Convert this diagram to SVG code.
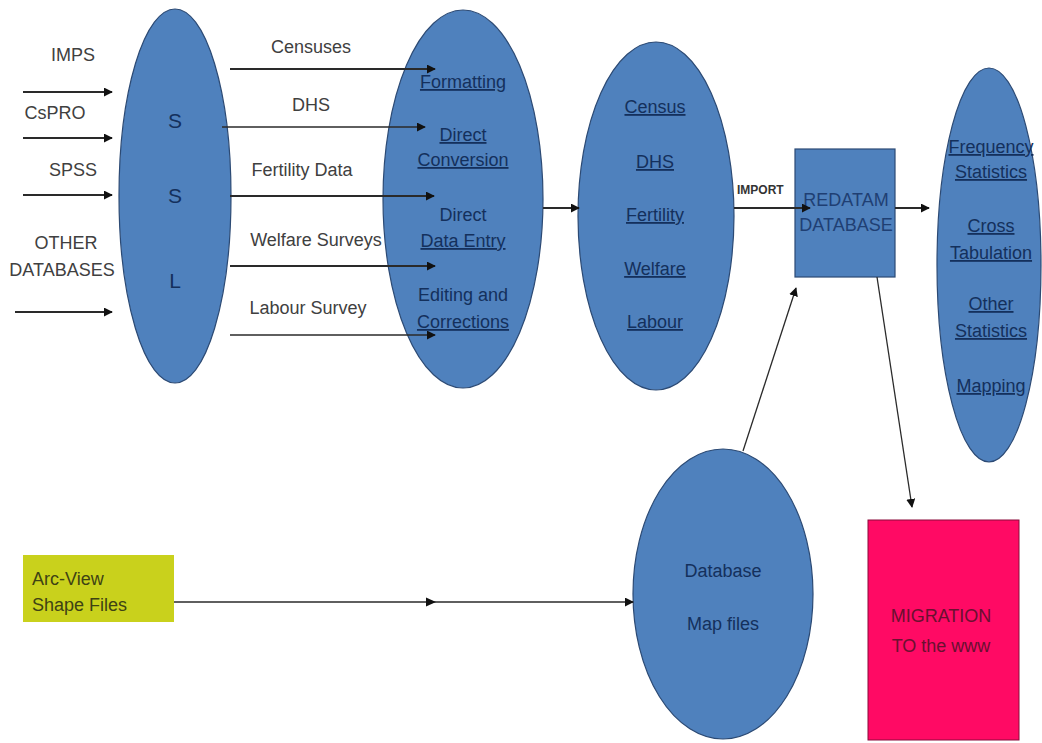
<svg xmlns="http://www.w3.org/2000/svg" width="1042" height="743" viewBox="0 0 1042 743">
<style>
.bg{fill:#ffffff}
.ell{fill:#4f81bd;stroke:#2c4a74;stroke-width:1.2}
.lbl{font-family:"Liberation Sans",Arial,sans-serif;font-size:18px;fill:#404040;text-anchor:middle}
.in{font-family:"Liberation Sans",Arial,sans-serif;font-size:18px;fill:#14305c;text-anchor:middle}
.u{text-decoration:underline}
.big{font-family:"Liberation Sans",Arial,sans-serif;font-size:21px;fill:#14305c;text-anchor:middle}
.ln{stroke:#2a2a2a;stroke-width:2;fill:none}
.thin{stroke:#2a2a2a;stroke-width:1.3;fill:none}
</style>
<defs>
<marker id="ah" viewBox="0 0 10 10" refX="9" refY="5" markerWidth="9" markerHeight="9" markerUnits="userSpaceOnUse" orient="auto">
<path d="M0,0 L10,5 L0,10 z" fill="#111"/>
</marker>
<marker id="ahs" viewBox="0 0 10 10" refX="9" refY="5" markerWidth="9" markerHeight="9" markerUnits="userSpaceOnUse" orient="auto">
<path d="M0,0 L10,5 L0,10 z" fill="#111"/>
</marker>
</defs>
<rect class="bg" x="0" y="0" width="1042" height="743"/>

<g id="source-labels">
<text class="lbl" x="73" y="61">IMPS</text>
<text class="lbl" x="55" y="119">CsPRO</text>
<text class="lbl" x="73" y="176">SPSS</text>
<text class="lbl" x="66" y="249">OTHER</text>
<text class="lbl" x="62" y="276">DATABASES</text>
</g>

<g id="ssl">
<ellipse class="ell" cx="175" cy="196" rx="56" ry="187"/>
<text class="big" x="175" y="128">S</text>
<text class="big" x="175" y="203">S</text>
<text class="big" x="175" y="288">L</text>
</g>

<g id="data-labels">
<text class="lbl" x="311" y="53">Censuses</text>
<text class="lbl" x="311" y="111">DHS</text>
<text class="lbl" x="302" y="176">Fertility Data</text>
<text class="lbl" x="316" y="246">Welfare Surveys</text>
<text class="lbl" x="308" y="314">Labour Survey</text>
</g>

<g id="processing">
<ellipse class="ell" cx="463" cy="199" rx="80" ry="189"/>
<text class="in u" x="463" y="88">Formatting</text>
<text class="in u" x="463" y="141">Direct</text>
<text class="in u" x="463" y="166">Conversion</text>
<text class="in" x="463" y="221">Direct</text>
<text class="in u" x="463" y="247">Data Entry</text>
<text class="in" x="463" y="301">Editing and</text>
<text class="in u" x="463" y="328">Corrections</text>
</g>

<g id="datasets">
<ellipse class="ell" cx="656" cy="216" rx="78" ry="174"/>
<text class="in u" x="655" y="113">Census</text>
<text class="in u" x="655" y="168">DHS</text>
<text class="in u" x="655" y="221">Fertility</text>
<text class="in u" x="655" y="275">Welfare</text>
<text class="in u" x="655" y="328">Labour</text>
</g>

<g id="redatam">
<rect x="795" y="149" width="100" height="128" fill="#4f81bd" stroke="#2c4a74" stroke-width="1.2"/>
<text class="big" x="846" y="206" style="font-size:18px;fill:#1f3f73">REDATAM</text>
<text class="big" x="846" y="231" style="font-size:18px;fill:#1f3f73">DATABASE</text>
</g>

<g id="outputs">
<ellipse class="ell" cx="989" cy="265" rx="52" ry="197"/>
<text class="in u" x="991" y="153">Frequency</text>
<text class="in u" x="991" y="178">Statistics</text>
<text class="in u" x="991" y="232">Cross</text>
<text class="in u" x="991" y="259">Tabulation</text>
<text class="in u" x="991" y="310">Other</text>
<text class="in u" x="991" y="337">Statistics</text>
<text class="in u" x="991" y="392">Mapping</text>
</g>

<g id="arcview">
<rect x="23" y="555" width="151" height="67" fill="#c9d11c"/>
<text class="lbl" x="32" y="585" style="text-anchor:start;fill:#3e4214">Arc-View</text>
<text class="lbl" x="32" y="611" style="text-anchor:start;fill:#3e4214">Shape Files</text>
</g>

<g id="mapfiles">
<ellipse class="ell" cx="723" cy="594" rx="90" ry="145"/>
<text class="in" x="723" y="577">Database</text>
<text class="in" x="723" y="630">Map files</text>
</g>

<g id="migration">
<rect x="868" y="520" width="151" height="220" fill="#ff0a64" stroke="#8a0a3a" stroke-width="1"/>
<text class="in" x="941" y="622" style="fill:#6a1030">MIGRATION</text>
<text class="in" x="941" y="652" style="fill:#6a1030">TO the www</text>
</g>

<g id="connectors">
<line class="ln" x1="23" y1="92" x2="112" y2="92" marker-end="url(#ah)"/>
<line class="ln" x1="23" y1="138" x2="112" y2="138" marker-end="url(#ah)"/>
<line class="ln" x1="23" y1="195" x2="112" y2="195" marker-end="url(#ah)"/>
<line class="ln" x1="15" y1="312" x2="112" y2="312" marker-end="url(#ah)"/>
<line class="ln" x1="230" y1="69" x2="435" y2="69" marker-end="url(#ah)"/>
<line class="thin" x1="222" y1="127" x2="425" y2="127" marker-end="url(#ah)"/>
<line class="ln" x1="230" y1="196" x2="434" y2="196" marker-end="url(#ah)"/>
<line class="ln" x1="230" y1="266" x2="435" y2="266" marker-end="url(#ah)"/>
<line class="thin" x1="230" y1="335" x2="435" y2="335" marker-end="url(#ah)"/>
<line class="ln" x1="543" y1="208" x2="579" y2="208" marker-end="url(#ah)"/>
<line class="ln" x1="734" y1="208" x2="810" y2="208" marker-end="url(#ah)"/>
<text x="737" y="194" style="font-family:'Liberation Sans',Arial,sans-serif;font-size:12px;font-weight:bold;fill:#333">IMPORT</text>
<line class="ln" x1="895" y1="208" x2="929" y2="208" marker-end="url(#ah)"/>
<line class="thin" x1="174" y1="602" x2="633" y2="602" marker-end="url(#ahs)"/>
<path d="M426,597.5 L436,602 L426,606.5 z" fill="#111"/>
<line class="thin" x1="743" y1="451" x2="796" y2="288" marker-end="url(#ahs)"/>
<line class="thin" x1="877" y1="277" x2="912" y2="507" marker-end="url(#ahs)"/>
</g>
</svg>
